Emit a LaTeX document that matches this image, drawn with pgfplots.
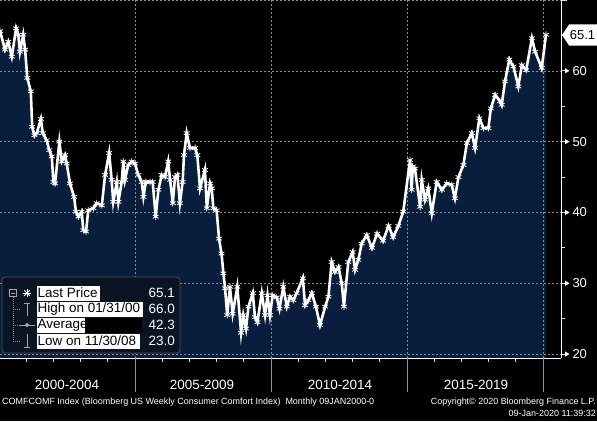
\documentclass[border=0pt]{standalone}
\usepackage{fontspec}
\setmainfont{Liberation Sans}
\usepackage{pgfplots}
\usepackage{pgfplotstable}
\pgfplotsset{compat=1.18}
\definecolor{navy}{RGB}{8,30,60}
\definecolor{boxbg}{RGB}{10,20,34}
\definecolor{boxbd}{RGB}{75,80,90}
\definecolor{sepgray}{RGB}{150,150,150}

\pgfplotstableread{
t v
2000.04 65.6
2000.22 63.0
2000.34 64.1
2000.47 62.0
2000.63 66.0
2000.71 65.1
2000.77 62.7
2000.89 65.1
2000.96 63.0
2001.04 59.0
2001.17 57.1
2001.22 52.1
2001.30 50.9
2001.39 51.2
2001.54 53.2
2001.61 51.2
2001.75 50.2
2001.85 48.8
2001.94 47.9
2002.00 44.3
2002.06 44.1
2002.22 50.0
2002.31 47.2
2002.43 48.1
2002.49 46.9
2002.61 44.1
2002.76 42.2
2002.83 40.1
2002.92 39.4
2003.04 40.1
2003.10 37.5
2003.20 37.3
2003.28 40.3
2003.47 40.6
2003.59 41.3
2003.78 41.0
2003.90 45.3
2004.05 48.4
2004.14 44.6
2004.20 41.5
2004.33 44.3
2004.39 41.5
2004.51 44.3
2004.57 47.2
2004.63 44.6
2004.75 46.7
2004.88 47.2
2005.00 46.9
2005.12 45.3
2005.25 44.3
2005.31 42.2
2005.40 44.3
2005.55 44.3
2005.65 44.3
2005.76 39.4
2005.86 43.2
2005.98 45.3
2006.10 45.0
2006.22 47.2
2006.29 44.6
2006.39 41.3
2006.47 45.0
2006.56 45.3
2006.65 41.3
2006.75 44.3
2006.80 48.1
2006.90 51.2
2007.02 49.1
2007.21 49.1
2007.29 48.1
2007.39 43.4
2007.57 46.0
2007.64 40.6
2007.76 44.1
2007.82 43.4
2007.88 40.6
2008.00 40.3
2008.09 36.3
2008.18 34.2
2008.25 31.4
2008.31 29.3
2008.39 25.5
2008.49 29.5
2008.59 25.7
2008.76 29.5
2008.90 23.0
2008.98 25.5
2009.08 23.6
2009.17 26.7
2009.33 28.6
2009.41 25.2
2009.50 24.5
2009.66 28.6
2009.78 25.5
2009.87 28.3
2009.96 25.5
2010.06 28.3
2010.21 28.0
2010.31 26.4
2010.45 29.5
2010.58 26.7
2010.70 28.1
2010.82 27.6
2010.94 28.6
2011.17 30.7
2011.25 26.9
2011.37 27.6
2011.50 28.6
2011.65 26.7
2011.80 24.1
2011.99 26.7
2012.11 28.1
2012.23 33.0
2012.35 31.6
2012.48 32.3
2012.60 30.0
2012.68 26.7
2012.84 33.0
2013.00 34.4
2013.09 31.9
2013.21 33.3
2013.33 35.6
2013.52 36.8
2013.71 35.0
2013.90 37.0
2014.12 36.0
2014.32 38.1
2014.49 36.5
2014.68 38.1
2014.86 40.1
2015.11 47.4
2015.17 43.2
2015.21 46.5
2015.29 46.2
2015.48 40.8
2015.54 44.6
2015.66 41.8
2015.78 43.4
2015.91 39.9
2016.09 44.3
2016.28 43.2
2016.46 44.1
2016.64 43.9
2016.76 42.0
2016.89 45.0
2017.07 46.7
2017.20 49.8
2017.38 51.2
2017.50 49.1
2017.66 53.3
2017.81 51.9
2017.99 51.9
2018.08 54.7
2018.24 56.6
2018.42 55.7
2018.48 55.2
2018.60 58.5
2018.76 61.6
2018.91 60.6
2019.09 57.8
2019.22 60.8
2019.38 60.1
2019.59 64.6
2019.71 62.7
2019.95 60.4
2020.11 65.1
}\comfort

\begin{document}
\begin{tikzpicture}[x=1bp,y=1bp]
\useasboundingbox (0,0) rectangle (597,421);
\clip (0,0) rectangle (597,421);
\fill[black] (0,0) rectangle (597,421);
% area fill underneath
\begin{axis}[
  at={(0bp,62.7bp)}, anchor=south west,
  width=561bp, height=358.3bp, scale only axis,
  xmin=2000.037, xmax=2020.66, ymin=19.4, ymax=70,
  hide axis,
]
\addplot[draw=none, fill=navy] table {\comfort} \closedcycle;
\end{axis}
% grid, axes and line
\begin{axis}[
  at={(0bp,62.7bp)}, anchor=south west,
  width=561bp, height=358.3bp, scale only axis,
  xmin=2000.037, xmax=2020.66, ymin=19.4, ymax=70,
  axis x line*=bottom, axis y line*=right,
  axis line style={white, line width=0.8bp},
  xtick={2005,2010,2015,2020}, xticklabels={},
  minor xtick={2001,2002,2003,2004,2006,2007,2008,2009,2011,2012,2013,2014,2016,2017,2018,2019},
  ytick={20,30,40,50,60,70}, minor ytick={25,35,45,55,65},
  yticklabels={20,30,40,50,60,{}},
  tick align=outside,
  major tick length=6bp, minor tick length=4bp,
  tick style={white!85!black, line width=0.8bp},
  grid=major,
  major grid style={dash pattern=on 2bp off 2bp, color=white!55!black, line width=0.6bp},
  /pgf/number format/assume math mode=true,
  yticklabel style={font=\fontsize{13}{13}\selectfont, text=white, xshift=2bp},
]
\addplot[white, line width=2.6bp, mark=asterisk, mark size=3.3bp,
  mark options={line width=0.8bp}] table {\comfort};
\end{axis}

% period separators below the time axis
\foreach \xs in {135.0,271.0,407.0,543.0}{
  \draw[sepgray, line width=0.8bp] (\xs,62.7) -- (\xs,28.7);
}
% arrow heads on the value ticks
\foreach \ys in {66.95,137.76,208.57,279.38,350.19}{
  \fill[white] (565,\ys+2.6) -- (569.5,\ys) -- (565,\ys-2.6) -- cycle;
}

% last price tag
\fill[white] (562,386) -- (569,396.5) -- (597,396.5) -- (597,375.5) -- (569,375.5) -- cycle;
\node[anchor=center, text=black, inner sep=0pt, font=\fontsize{13}{13}\selectfont] at (582.5,386) {65.1};

% x labels
\foreach \xc/\lab in {67/2000-2004, 202/2005-2009, 340/2010-2014, 476/2015-2019}{
  \node[text=white, inner sep=0pt, font=\fontsize{13.5}{13.5}\selectfont] at (\xc,36) {\lab};
}

% footer
\node[anchor=west, text=white, inner sep=0pt, font=\fontsize{9}{9}\selectfont] at (2,19)
  {COMFCOMF Index (Bloomberg US Weekly Consumer Comfort Index)\ \ Monthly 09JAN2000-0};
\node[anchor=east, text=white, inner sep=0pt, font=\fontsize{9}{9}\selectfont] at (596,19)
  {Copyright\textcopyright\ 2020 Bloomberg Finance L.P.};
\node[anchor=east, text=white, inner sep=0pt, font=\fontsize{9}{9}\selectfont] at (596,8)
  {09-Jan-2020 11:39:32};

% legend box
\filldraw[fill=boxbg, draw=boxbd, line width=0.8bp, rounded corners=3bp] (2,68) rectangle (180,144);
\fill[white] (37,120.5) rectangle (100,135.5);
\fill[white] (37,104.5) rectangle (143,119.5);
\fill[white] (37,88.5) rectangle (85,103.5);
\fill[black] (85,88.5) rectangle (142,103.5);
\fill[white] (37,72.5) rectangle (140,87.5);
\foreach \yy/\lab/\val in {128/Last Price/65.1, 112/High on 01\slash 31\slash 00/66.0, 96/Average/42.3, 80/Low on 11\slash 30\slash 08/23.0}{
  \node[anchor=west, text=black, inner sep=0pt, font=\fontsize{13.5}{13.5}\selectfont] at (37.5,\yy) {\lab};
  \node[anchor=east, text=white, inner sep=0pt, font=\fontsize{13.5}{13.5}\selectfont] at (175,\yy) {\val};
}
% legend icons
\draw[white!65!black, line width=0.6bp] (9.5,124.5) rectangle (16.5,131.5);
\draw[white!65!black, line width=0.6bp] (11,128) -- (15,128);
\draw[white!55!black, line width=0.6bp, dash pattern=on 1bp off 1bp] (13,124.5) -- (13,80);
\foreach \yy in {112,96,80}{
  \draw[white!55!black, line width=0.6bp, dash pattern=on 1bp off 1bp] (13,\yy) -- (20,\yy);
}
\foreach \ang in {0,45,90,135}{
  \draw[white, line width=0.9bp] (27,128) ++(\ang:4) -- ++(\ang+180:8);
}
\draw[white!65!black, line width=0.8bp] (27,105) -- (27,118) (24,118) -- (30,118);
\draw[white!65!black, line width=0.8bp] (20,96) -- (35,96);
\draw[white!65!black, fill=white!65!black] (27,96) circle (1.8);
\draw[white!65!black, line width=0.8bp] (27,87) -- (27,74) (24,74) -- (30,74);
\end{tikzpicture}
\end{document}
